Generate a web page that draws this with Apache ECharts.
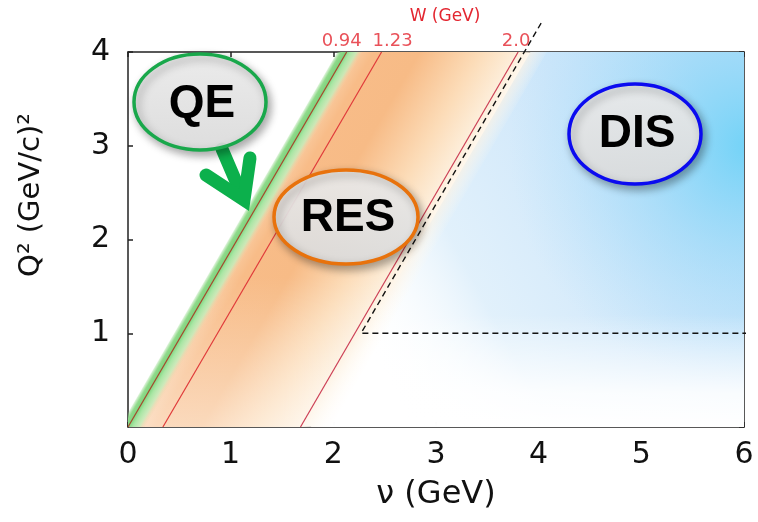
<!DOCTYPE html>
<html><head><meta charset="utf-8">
<script src="https://cdn.jsdelivr.net/npm/echarts@6/dist/echarts.min.js"></script>
<style>html,body{margin:0;padding:0;background:#fff}#c{width:758px;height:522px}</style>
</head><body><div id="c"></div>
<script>
// ---- axes ----
const xMin = 0, xMax = 6, xStep = 1;
const yMin = 0, yMax = 4, yStep = 1;
const xTitle = 'ν (GeV)';
const yTitle = 'Q² (GeV/c)²';
const wTitle = 'W (GeV)';
// ---- constant-W lines: ν where each line meets Q²=0 and Q²=4 ----
const wLabels = ['0.94', '1.23', '2.0'];
const wNuAtQ0 = [0.00, 0.34, 1.68];
const wNuAtQ4 = [2.13, 2.47, 3.80];
// ---- dashed DIS boundary (ν, Q²) ----
const disBoundaryNu = [6.14, 2.27, 4.03];
const disBoundaryQ2 = [1.00, 1.00, 4.32];
// ---- shaded regions: left/right edge ν at Q²=0 and at Q²=4 ----
const qeBandNuQ0 = [-0.08, 0.17];
const qeBandNuQ4 = [2.04, 2.29];
const resBandNuQ0 = [0.03, 1.98];
const resBandNuQ4 = [2.16, 4.08];
const disRegionNuQ0 = [1.78, 6.0];
const disRegionNuQ4 = [3.92, 6.0];
const regionNames = ['QE', 'RES', 'DIS'];

const chart = echarts.init(document.getElementById('c'), null, {renderer: 'canvas'});

function corners(api, nuQ0, nuQ4) {
  return [api.coord([nuQ0[0], yMin]), api.coord([nuQ0[1], yMin]),
          api.coord([nuQ4[1], yMax]), api.coord([nuQ4[0], yMax])];
}
// gradient across a slanted band (perpendicular to its edges)
function acrossBand(pts, stops) {
  const a = pts[0], b = pts[3];
  let ux = b[0] - a[0], uy = b[1] - a[1];
  const L = Math.hypot(ux, uy); ux /= L; uy /= L;
  let nx = -uy, ny = ux; if (nx < 0) { nx = -nx; ny = -ny; }
  const sx = (a[0] + b[0]) / 2, sy = (a[1] + b[1]) / 2;
  const w = (pts[1][0] - pts[0][0]) * nx + (pts[1][1] - pts[0][1]) * ny;
  return {type: 'linear', x: sx, y: sy, x2: sx + nx * w, y2: sy + ny * w, global: true, colorStops: stops};
}
function region(nuQ0, nuQ4, fills, z) {
  return {
    type: 'custom', coordinateSystem: 'cartesian2d', data: [[0, 0]], silent: true, z: z, clip: true,
    renderItem: function (params, api) {
      const pts = corners(api, nuQ0, nuQ4);
      return {type: 'group', children: fills.map(f => ({type: 'polygon', shape: {points: pts}, style: {fill: f(api, pts)}}))};
    }
  };
}

const disFills = [
  (api) => { const p = api.coord([2.4, 0.7]), q = api.coord([6, 2.8]);
    return {type: 'linear', x: p[0], y: p[1], x2: q[0], y2: q[1], global: true, colorStops: [
      {offset: 0, color: 'rgba(255,255,255,0)'}, {offset: 0.3, color: 'rgba(222,239,251,0.9)'},
      {offset: 0.7, color: '#cde6fa'}, {offset: 1, color: '#bfe1f9'}]}; },
  (api) => { const c = api.coord([6.05, 3.0]);
    return {type: 'radial', x: c[0], y: c[1], r: 240, global: true, colorStops: [
      {offset: 0, color: 'rgba(110,210,247,0.95)'}, {offset: 0.45, color: 'rgba(140,214,248,0.5)'},
      {offset: 1, color: 'rgba(170,222,250,0)'}]}; },
  (api) => { const p = api.coord([5, 0]), q = api.coord([5, 1.2]);
    return {type: 'linear', x: p[0], y: p[1], x2: q[0], y2: q[1], global: true, colorStops: [
      {offset: 0, color: 'rgba(255,255,255,1)'}, {offset: 0.3, color: 'rgba(255,255,255,0.88)'},
      {offset: 1, color: 'rgba(255,255,255,0)'}]}; }
];
const resFills = [
  (api, pts) => acrossBand(pts, [
    {offset: 0, color: '#f9cfa6'}, {offset: 0.12, color: '#f8bc88'}, {offset: 0.35, color: '#f7bb86'},
    {offset: 0.65, color: '#fcdcb8'}, {offset: 0.85, color: '#fdefdc'}, {offset: 1, color: 'rgba(255,250,240,0)'}]),
  (api) => { const p = api.coord([1, 0]), q = api.coord([1, 1.6]);
    return {type: 'linear', x: p[0], y: p[1], x2: q[0], y2: q[1], global: true, colorStops: [
      {offset: 0, color: 'rgba(255,255,255,0.45)'}, {offset: 1, color: 'rgba(255,255,255,0)'}]}; }
];
const qeFills = [
  (api, pts) => acrossBand(pts, [
    {offset: 0, color: 'rgba(140,215,130,0.25)'}, {offset: 0.15, color: '#8fda8a'}, {offset: 0.32, color: '#7fd47f'},
    {offset: 0.5, color: '#a8e6a4'}, {offset: 0.75, color: 'rgba(196,236,186,0.85)'}, {offset: 1, color: 'rgba(249,207,166,0)'}])
];

const wColors = ['#a8452c', '#e03a3a', '#cc3f55'];
const wLabelDx = [-5, 11, -2];
const font = '"DejaVu Sans", Verdana, sans-serif';
const bold = '"Liberation Sans", Arial, sans-serif';

const series = [
  region(disRegionNuQ0, disRegionNuQ4, disFills, 1),
  region(resBandNuQ0, resBandNuQ4, resFills, 2),
  region(qeBandNuQ0, qeBandNuQ4, qeFills, 3)
];
wLabels.forEach((w, i) => series.push({
  type: 'line', name: 'W=' + w, data: [[wNuAtQ0[i], yMin], [wNuAtQ4[i], yMax]], symbol: 'none', silent: true,
  lineStyle: {color: wColors[i], width: 1.2}, z: 5
}));
series.push({
  type: 'line', name: 'DIS boundary', data: disBoundaryNu.map((v, i) => [v, disBoundaryQ2[i]]), symbol: 'none',
  clip: false, silent: true, lineStyle: {color: '#111', width: 1.4, type: [6, 4]}, z: 6
});
series.push({
  type: 'scatter', data: wLabels.map((w, i) => ({value: [wNuAtQ4[i], yMax],
    label: {formatter: w, offset: [wLabelDx[i], 0]}})),
  symbolSize: 0, clip: false, silent: true, z: 7,
  label: {show: true, position: 'top', distance: 2, color: '#e32630', fontSize: 18, fontFamily: font}
});

const bubbles = [
  {cx: 200, cy: 102, rx: 66, ry: 48, stroke: '#19a84b', ty: 104},
  {cx: 346, cy: 217, rx: 72, ry: 47, stroke: '#e8720c', ty: 218},
  {cx: 635, cy: 134, rx: 66, ry: 50, stroke: '#0b0bf0', ty: 134}
];
const graphic = [
  {type: 'text', x: 445, y: 17, z: 100, style: {text: wTitle, font: '17px ' + font, fill: '#e32630', textAlign: 'center', textVerticalAlign: 'middle'}},
  {type: 'text', x: 31, y: 195, rotation: Math.PI / 2, z: 100, style: {text: yTitle, font: '29px ' + font, fill: '#111', textAlign: 'center', textVerticalAlign: 'middle'}},
  {type: 'line', z: 100, shape: {x1: 222, y1: 149, x2: 243, y2: 198}, style: {stroke: '#0cb04c', lineWidth: 13, lineCap: 'round'}},
  {type: 'polyline', z: 100, shape: {points: [[206, 175], [244, 200], [250, 158]]}, style: {stroke: '#0cb04c', fill: null, lineWidth: 13, lineCap: 'round', lineJoin: 'miter'}}
];
bubbles.forEach((b, i) => {
  graphic.push({type: 'ellipse', z: 101, shape: {cx: b.cx, cy: b.cy, rx: b.rx, ry: b.ry},
    style: {fill: {type: 'linear', x: 0, y: 0, x2: 0, y2: 1, colorStops: [{offset: 0, color: 'rgba(242,242,242,0.9)'}, {offset: 1, color: 'rgba(226,226,226,0.9)'}]},
      stroke: b.stroke, lineWidth: 3.5, shadowBlur: 8, shadowOffsetX: 3, shadowOffsetY: 4, shadowColor: 'rgba(0,0,0,0.35)'}});
  graphic.push({type: 'text', z: 102, x: b.cx + 2, y: b.ty, style: {text: regionNames[i], font: 'bold 46px ' + bold, fill: '#000', textAlign: 'center', textVerticalAlign: 'middle'}});
});

const axisCommon = {
  splitLine: {show: false},
  axisLine: {show: true, onZero: false, lineStyle: {color: '#222', width: 1.5}},
  axisTick: {show: true, inside: true, length: 5, lineStyle: {color: '#222', width: 1.5}}
};
chart.setOption({
  animation: false,
  backgroundColor: '#fff',
  grid: {left: 128, right: 14, top: 52, bottom: 95, containLabel: false, outerBoundsMode: 'none'},
  xAxis: [
    Object.assign({}, axisCommon, {type: 'value', position: 'bottom', min: xMin, max: xMax, interval: xStep,
      axisLabel: {fontSize: 30, fontFamily: font, color: '#111', margin: 13},
      name: xTitle, nameLocation: 'middle', nameGap: 52, nameTextStyle: {fontSize: 32, fontFamily: font, color: '#111'}}),
    Object.assign({}, axisCommon, {type: 'value', position: 'top', min: xMin, max: xMax, interval: xStep, axisLabel: {show: false}})
  ],
  yAxis: [
    Object.assign({}, axisCommon, {type: 'value', position: 'left', min: yMin, max: yMax, interval: yStep,
      axisLabel: {fontSize: 30, fontFamily: font, color: '#111', margin: 18, showMinLabel: false,
        formatter: v => (v === yMin ? '' : String(v))}}),
    Object.assign({}, axisCommon, {type: 'value', position: 'right', min: yMin, max: yMax, interval: yStep, axisLabel: {show: false}})
  ],
  series: series,
  graphic: graphic
});
</script></body></html>
